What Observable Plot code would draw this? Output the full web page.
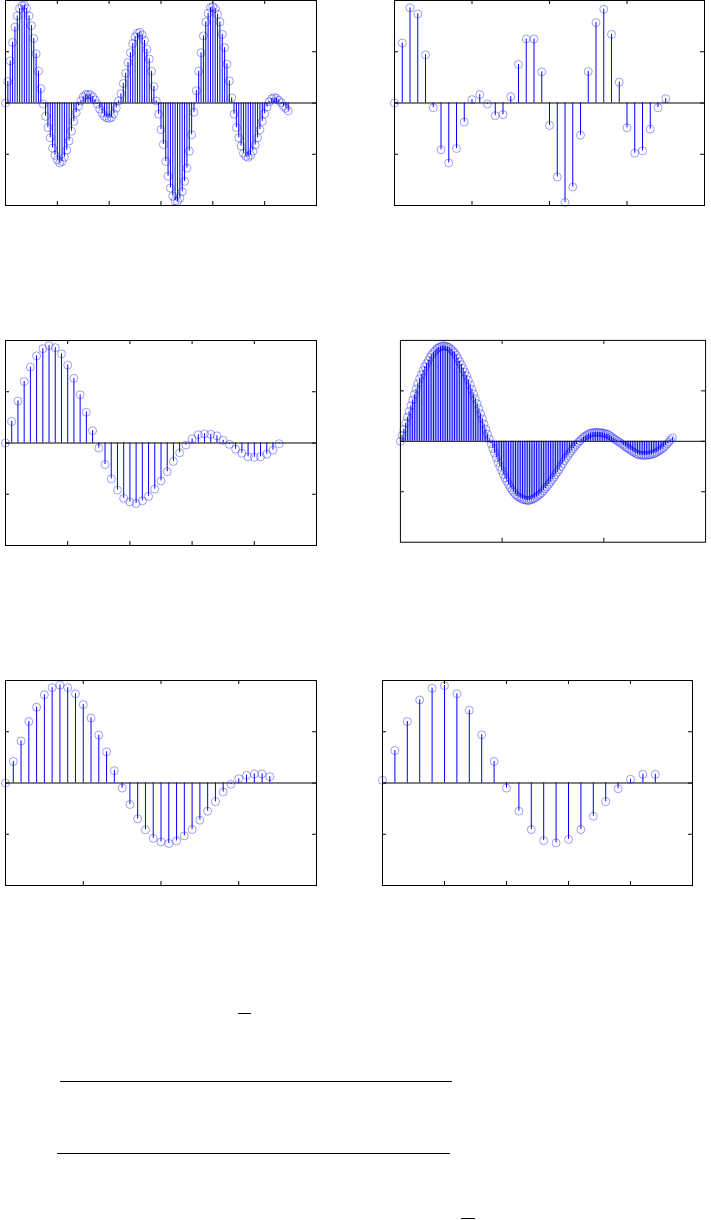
<!DOCTYPE html>
<html>
<head>
<meta charset="utf-8">
<script src="https://cdn.jsdelivr.net/npm/d3@7"></script>
<script src="https://cdn.jsdelivr.net/npm/@observablehq/plot@0.6"></script>
<style>
  html, body { margin: 0; padding: 0; background: #fff; }
  #page { position: relative; width: 711px; height: 1220px; overflow: hidden; background: #fff; }
  .panel { position: absolute; }
  .bar { position: absolute; height: 0; border-top: 1px solid #000; }
</style>
</head>
<body>
<div id="page"></div>
<script>
// Panel 1 (top left): densely resampled sequence
const p1Values = [0, 0.21, 0.41, 0.59, 0.74, 0.85, 0.92, 0.95, 0.955, 0.92,
  0.85, 0.755, 0.63, 0.48, 0.31, 0.14, -0.01, -0.13, -0.24, -0.34,
  -0.44, -0.51, -0.555, -0.585, -0.57, -0.53, -0.46, -0.37, -0.275, -0.18,
  -0.095, -0.03, 0.02, 0.06, 0.08, 0.085, 0.08, 0.06, 0.03, -0.01,
  -0.06, -0.1, -0.13, -0.145, -0.15, -0.14, -0.105, -0.05, 0.02, 0.09,
  0.19, 0.29, 0.395, 0.49, 0.58, 0.645, 0.68, 0.69, 0.665, 0.61,
  0.525, 0.43, 0.31, 0.16, 0.02, -0.11, -0.26, -0.405, -0.57, -0.715,
  -0.83, -0.91, -0.955, -0.96, -0.93, -0.865, -0.765, -0.635, -0.47, -0.31,
  -0.09, 0.12, 0.31, 0.49, 0.655, 0.79, 0.875, 0.93, 0.94, 0.92,
  0.865, 0.79, 0.67, 0.54, 0.38, 0.215, 0.05, -0.11, -0.24, -0.34,
  -0.42, -0.49, -0.52, -0.53, -0.51, -0.47, -0.41, -0.34, -0.26, -0.18,
  -0.105, -0.04, 0.013, 0.042, 0.052, 0.046, 0.026, 0.003, -0.03, -0.052, -0.078];
const p1XMax = 132;
const p1XTicks = [22, 44, 66, 88, 110];

// Panel 2 (top right)
const p2Values = [0, 0.585, 0.928, 0.869, 0.47, -0.046, -0.457, -0.585, -0.444, -0.186,
  0.033, 0.082, -0.01, -0.124, -0.114, 0.062, 0.376, 0.624, 0.624, 0.304,
  -0.219, -0.722, -0.97, -0.82, -0.314, 0.307, 0.784, 0.915, 0.67, 0.203,
  -0.242, -0.49, -0.467, -0.255, -0.046, 0.042];
const p2XMax = 40;
const p2XTicks = [10, 20, 30];

// Panel 3 (middle left)
const p3Values = [0, 0.21, 0.41, 0.6, 0.74, 0.85, 0.92, 0.95, 0.93, 0.87,
  0.76, 0.63, 0.47, 0.3, 0.12, -0.05, -0.21, -0.35, -0.46, -0.54,
  -0.575, -0.59, -0.565, -0.52, -0.45, -0.37, -0.28, -0.18, -0.095, -0.02,
  0.04, 0.08, 0.09, 0.085, 0.07, 0.026, -0.013, -0.06, -0.1, -0.135,
  -0.14, -0.135, -0.11, -0.07, -0.007];
const p3XMax = 50;
const p3XTicks = [10, 20, 30, 40];

// Panel 4 (middle right): dense version
const p4Values = [0, 0.06, 0.12, 0.18, 0.239, 0.296, 0.353, 0.41, 0.464, 0.519,
  0.573, 0.62, 0.66, 0.70, 0.74, 0.771, 0.803, 0.834, 0.86, 0.88,
  0.90, 0.92, 0.929, 0.937, 0.946, 0.947, 0.941, 0.936, 0.93, 0.913,
  0.896, 0.879, 0.854, 0.823, 0.791, 0.76, 0.723, 0.686, 0.649, 0.607,
  0.561, 0.516, 0.47, 0.421, 0.373, 0.324, 0.274, 0.223, 0.171, 0.12,
  0.071, 0.023, -0.026, -0.073, -0.119, -0.164, -0.21, -0.25, -0.29, -0.33,
  -0.366, -0.397, -0.429, -0.46, -0.483, -0.506, -0.529, -0.545, -0.555, -0.565,
  -0.575, -0.579, -0.584, -0.588, -0.586, -0.579, -0.572, -0.565, -0.552, -0.539,
  -0.526, -0.51, -0.49, -0.47, -0.45, -0.427, -0.404, -0.381, -0.357, -0.331,
  -0.306, -0.28, -0.251, -0.223, -0.194, -0.168, -0.144, -0.119, -0.095, -0.074,
  -0.052, -0.031, -0.011, 0.006, 0.023, 0.04, 0.051, 0.063, 0.074, 0.081,
  0.084, 0.087, 0.09, 0.089, 0.087, 0.086, 0.083, 0.079, 0.074, 0.07,
  0.057, 0.045, 0.032, 0.02, 0.009, -0.002, -0.013, -0.026, -0.04, -0.053,
  -0.066, -0.077, -0.089, -0.10, -0.11, -0.12, -0.13, -0.136, -0.137, -0.139,
  -0.14, -0.139, -0.137, -0.136, -0.131, -0.124, -0.117, -0.11, -0.099, -0.087,
  -0.076, -0.061, -0.043, -0.025, -0.007, 0.015, 0.035];
const p4XMax = 175;
const p4XTicks = [175 / 3, 350 / 3];

// Panel 5 (bottom left)
const p5Values = [0, 0.21, 0.41, 0.6, 0.74, 0.86, 0.93, 0.955, 0.93, 0.87,
  0.765, 0.634, 0.467, 0.304, 0.12, -0.05, -0.21, -0.35, -0.457, -0.54,
  -0.575, -0.59, -0.565, -0.516, -0.454, -0.363, -0.275, -0.183, -0.088, -0.013,
  0.042, 0.075, 0.088, 0.088, 0.062];
const p5XMax = 40;
const p5XTicks = [10, 20, 30];

// Panel 6 (bottom right)
const p6Values = [0.026, 0.317, 0.6, 0.81, 0.925, 0.95, 0.87, 0.71, 0.47, 0.21,
  -0.05, -0.275, -0.454, -0.562, -0.585, -0.55, -0.454, -0.324, -0.183, -0.056,
  0.036, 0.085, 0.085];
const p6XMax = 25;
const p6XTicks = [5, 10, 15, 20];

const yTicks = [-0.5, 0, 0.5];

const M = 6;      // margin around each frame so edge markers are not cut
const TICK = 4;   // inward tick length

function stemPanel(values, xMax, xTicks, frameLeft, frameTop, W, H) {
  const data = values.map((v, n) => ({n, v}));
  const svg = Plot.plot({
    width: W + 2 * M,
    height: H + 2 * M,
    margin: M,
    style: {background: "transparent"},
    x: {domain: [0, xMax], axis: null},
    y: {domain: [-1, 1], axis: null},
    marks: [
      Plot.ruleX(data, {x: "n", y1: 0, y2: "v", stroke: "#0000ff", strokeWidth: 1}),
      Plot.ruleY([0], {stroke: "#000", strokeWidth: 1}),
      Plot.dot(data, {x: "n", y: "v", r: 4, stroke: "#0000ff", strokeOpacity: 0.38, strokeWidth: 1, fill: "none"}),
      Plot.tickX(xTicks, {x: d => d, insetTop: H - TICK, stroke: "#000"}),
      Plot.tickX(xTicks, {x: d => d, insetBottom: H - TICK, stroke: "#000"}),
      Plot.tickY(yTicks, {y: d => d, insetRight: W - TICK, stroke: "#000"}),
      Plot.tickY(yTicks, {y: d => d, insetLeft: W - TICK, stroke: "#000"}),
      Plot.frame({stroke: "#000", strokeWidth: 1})
    ]
  });
  const wrap = document.createElement("div");
  wrap.className = "panel";
  wrap.style.left = (frameLeft - M) + "px";
  wrap.style.top = (frameTop - M) + "px";
  wrap.appendChild(svg);
  return wrap;
}

const page = document.getElementById("page");
page.appendChild(stemPanel(p1Values, p1XMax, p1XTicks, 5, 0, 311, 205));
page.appendChild(stemPanel(p2Values, p2XMax, p2XTicks, 394, 0, 310, 205));
page.appendChild(stemPanel(p3Values, p3XMax, p3XTicks, 5, 340, 311, 205));
page.appendChild(stemPanel(p4Values, p4XMax, p4XTicks, 400, 340, 310, 205));
page.appendChild(stemPanel(p5Values, p5XMax, p5XTicks, 5, 680, 311, 205));
page.appendChild(stemPanel(p6Values, p6XMax, p6XTicks, 382, 680, 310, 205));

// Fraction bars left over from the typeset equations below the figure
const bars = [
  {left: 238, top: 1013, width: 13},
  {left: 60, top: 1081, width: 392},
  {left: 57, top: 1153, width: 393},
  {left: 461, top: 1218, width: 14}
];
for (const b of bars) {
  const d = document.createElement("div");
  d.className = "bar";
  d.style.left = b.left + "px";
  d.style.top = b.top + "px";
  d.style.width = b.width + "px";
  page.appendChild(d);
}
</script>
</body>
</html>
